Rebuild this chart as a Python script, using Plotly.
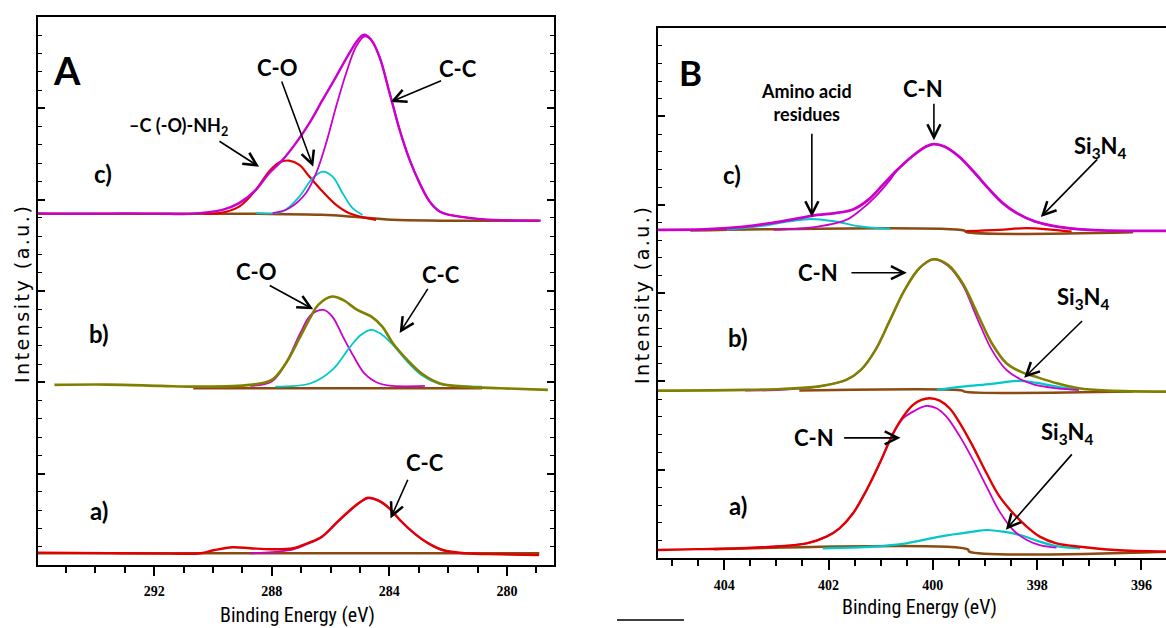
import plotly.graph_objects as go

# ---------------- colours ----------------
MAG = "#CC00CC"
CYA = "#00C8C8"
RED = "#E00000"
OLV = "#808000"
BRN = "#8B4A12"

# ---------------- Panel A : C 1s ----------------
# c)
a_c_env_x = [295.95, 294.5, 293.0, 291.5, 290.82, 289.68, 289.11, 288.54, 288.09, 287.63, 287.18, 286.72, 286.27,
             285.81, 285.36, 285.02, 284.85, 284.62, 284.34, 283.99, 283.65, 283.31, 282.97, 282.63, 282.29, 281.95,
             281.0, 280.0, 278.85]
a_c_env_y = [3.850, 3.845, 3.850, 3.845, 3.844, 3.888, 3.962, 4.107, 4.290, 4.436, 4.619, 4.838, 5.093, 5.348, 5.605,
             5.769, 5.805, 5.750, 5.567, 5.167, 4.765, 4.436, 4.181, 3.979, 3.870, 3.833, 3.790, 3.775, 3.770]
a_c_nh2_x = [290.3, 289.79, 289.11, 288.54, 288.09, 287.75, 287.41, 287.06, 286.72, 286.27, 285.81, 285.36, 284.45]
a_c_nh2_y = [3.846, 3.852, 3.924, 4.107, 4.308, 4.406, 4.428, 4.381, 4.253, 4.089, 3.943, 3.852, 3.779]
a_c_co_x = [288.54, 287.63, 287.06, 286.61, 286.27, 285.93, 285.59, 285.25, 284.91]
a_c_co_y = [3.852, 3.870, 4.034, 4.235, 4.308, 4.253, 4.071, 3.907, 3.833]
a_c_cc_x = [287.97, 287.41, 286.84, 286.49, 286.15, 285.81, 285.47, 285.13, 284.85, 284.62, 284.34, 283.99, 283.65,
            283.31, 282.97, 282.63, 282.29, 281.95, 281.0]
a_c_cc_y = [3.852, 3.907, 4.071, 4.290, 4.619, 5.020, 5.385, 5.677, 5.786, 5.750, 5.567, 5.167, 4.765, 4.436, 4.181,
            3.979, 3.870, 3.833, 3.790]
a_c_bg_x = [295.95, 288.5, 286.3, 285.1, 283.9, 278.9]
a_c_bg_y = [3.845, 3.845, 3.835, 3.810, 3.780, 3.770]
# b)
a_b_env_x = [295.39, 293.58, 291.76, 290.55, 288.73, 288.0, 287.52, 287.03, 286.67, 286.42, 285.94, 285.58, 285.09,
             284.61, 284.24, 283.88, 283.39, 282.91, 282.30, 281.45, 280.24, 278.61]
a_b_env_y = [1.972, 1.975, 1.961, 1.953, 1.972, 2.026, 2.209, 2.501, 2.720, 2.848, 2.939, 2.903, 2.793, 2.720, 2.610,
             2.428, 2.245, 2.099, 1.990, 1.953, 1.935, 1.917]
a_b_co_x = [288.73, 288.0, 287.52, 287.03, 286.67, 286.24, 285.94, 285.58, 285.21, 284.85, 284.36, 283.88, 282.79]
a_b_co_y = [1.961, 2.008, 2.209, 2.538, 2.738, 2.793, 2.720, 2.501, 2.282, 2.099, 1.990, 1.961, 1.961]
a_b_cc_x = [287.88, 286.67, 285.94, 285.33, 284.97, 284.61, 284.24, 283.88, 283.39, 282.91, 282.30, 281.82, 280.85]
a_b_cc_y = [1.953, 1.990, 2.136, 2.391, 2.519, 2.574, 2.519, 2.410, 2.227, 2.081, 1.982, 1.961, 1.953]
a_b_bg_x = [290.67, 280.85]
a_b_bg_y = [1.935, 1.935]
# a)
a_a_env_x = [295.95, 293.5, 291.5, 290.42, 289.94, 289.33, 288.73, 288.0, 287.27, 286.79, 286.30, 285.82, 285.33,
             284.97, 284.73, 284.36, 284.0, 283.64, 283.15, 282.67, 282.18, 281.45, 280.24, 278.91]
a_a_env_y = [0.135, 0.130, 0.125, 0.128, 0.164, 0.194, 0.183, 0.172, 0.183, 0.237, 0.310, 0.456, 0.602, 0.694, 0.737,
             0.704, 0.621, 0.493, 0.347, 0.237, 0.164, 0.128, 0.117, 0.110]
a_a_fit_x = [288.73, 288.0, 287.27, 286.79, 286.30, 285.82, 285.33, 284.97, 284.73, 284.36, 284.0, 283.64, 283.15,
             282.67, 282.18, 281.45]
a_a_fit_y = [0.128, 0.140, 0.170, 0.230, 0.305, 0.450, 0.598, 0.690, 0.730, 0.700, 0.618, 0.490, 0.345, 0.235, 0.160,
             0.128]
a_a_bg_x = [295.95, 278.9]
a_a_bg_y = [0.128, 0.128]

# ---------------- Panel B : N 1s ----------------
# c)
b_c_env_x = [405.27, 404.30, 403.60, 403.05, 402.56, 402.21, 401.87, 401.52, 401.24, 400.96, 400.68, 400.40, 400.13,
             399.99, 399.78, 399.50, 399.22, 398.94, 398.66, 398.39, 398.04, 397.62, 396.99, 395.53]
b_c_env_y = [3.715, 3.722, 3.752, 3.797, 3.847, 3.884, 3.904, 3.949, 4.054, 4.224, 4.394, 4.545, 4.658, 4.685, 4.658,
             4.545, 4.375, 4.187, 4.017, 3.904, 3.809, 3.752, 3.715, 3.703]
b_c_cn_x = [403.05, 402.21, 401.66, 401.38, 401.10, 400.82, 400.68, 400.40, 400.13, 399.99, 399.78, 399.50, 399.22,
            398.94, 398.66, 398.39, 398.04, 397.62, 396.99]
b_c_cn_y = [3.715, 3.752, 3.828, 3.941, 4.092, 4.281, 4.394, 4.545, 4.658, 4.685, 4.658, 4.545, 4.375, 4.187, 4.017,
            3.904, 3.809, 3.752, 3.715]
b_c_am_x = [403.95, 403.26, 402.77, 402.32, 401.87, 401.38, 400.82]
b_c_am_y = [3.715, 3.760, 3.809, 3.839, 3.809, 3.752, 3.726]
b_c_si_x = [399.36, 398.73, 398.21, 397.69, 397.34]
b_c_si_y = [3.700, 3.715, 3.734, 3.715, 3.696]
b_c_bg_x = [404.65, 399.40, 399.36, 396.16]
b_c_bg_y = [3.707, 3.707, 3.690, 3.688]
# b)
b_b_env_x = [405.27, 403.60, 402.91, 402.21, 401.66, 401.38, 401.10, 400.82, 400.54, 400.26, 399.99, 399.71, 399.43,
             399.15, 398.87, 398.59, 398.32, 398.04, 397.62, 397.20, 396.65, 395.53]
b_b_env_y = [1.895, 1.903, 1.914, 1.940, 2.016, 2.129, 2.356, 2.695, 3.035, 3.280, 3.382, 3.318, 3.111, 2.771, 2.431,
             2.205, 2.110, 2.054, 1.978, 1.921, 1.895, 1.884]
b_b_cn_x = [403.60, 402.91, 402.21, 401.66, 401.38, 401.10, 400.82, 400.54, 400.26, 399.99, 399.71, 399.43, 399.15,
            398.87, 398.59, 398.32, 398.04, 397.62, 397.20]
b_b_cn_y = [1.895, 1.903, 1.940, 2.016, 2.129, 2.356, 2.695, 3.035, 3.280, 3.382, 3.307, 3.092, 2.714, 2.356, 2.129,
            2.023, 1.959, 1.921, 1.903]
b_b_si_x = [399.92, 399.43, 398.87, 398.39, 398.04, 397.62, 397.20]
b_b_si_y = [1.903, 1.940, 1.971, 2.005, 1.986, 1.940, 1.903]
b_b_bg_x = [402.56, 399.43, 399.40, 396.16]
b_b_bg_y = [1.895, 1.895, 1.884, 1.884]
# a)
b_a_env_x = [405.27, 404.5, 403.70, 403.06, 402.42, 402.04, 401.79, 401.53, 401.27, 401.02, 400.76, 400.57, 400.38,
             400.22, 400.06, 399.87, 399.68, 399.48, 399.23, 398.97, 398.72, 398.46, 398.20, 397.95, 397.63, 397.18,
             396.5, 395.53]
b_a_env_y = [0.091, 0.100, 0.110, 0.128, 0.166, 0.242, 0.336, 0.506, 0.770, 1.072, 1.412, 1.600, 1.733, 1.789, 1.808,
             1.782, 1.695, 1.525, 1.261, 0.959, 0.694, 0.506, 0.355, 0.242, 0.166, 0.128, 0.090, 0.071]
b_a_cn_x = [403.70, 403.06, 402.42, 402.04, 401.79, 401.53, 401.27, 401.02, 400.76, 400.57, 400.38, 400.22, 400.09,
            399.93, 399.74, 399.48, 399.23, 398.97, 398.72, 398.46, 398.20, 397.95, 397.63]
b_a_cn_y = [0.110, 0.128, 0.166, 0.242, 0.336, 0.506, 0.770, 1.072, 1.412, 1.582, 1.657, 1.706, 1.721, 1.695, 1.600,
            1.374, 1.110, 0.808, 0.525, 0.317, 0.204, 0.147, 0.117]
b_a_si_x = [402.11, 401.15, 400.51, 399.87, 399.23, 398.97, 398.65, 398.33, 397.95, 397.57, 397.18]
b_a_si_y = [0.110, 0.128, 0.166, 0.242, 0.298, 0.317, 0.298, 0.260, 0.185, 0.128, 0.110]
b_a_bg_x = [404.2, 399.33, 399.30, 395.53]
b_a_bg_y = [0.098, 0.098, 0.072, 0.072]

# tick labels
a_ticks = [292, 288, 284, 280]
b_ticks = [404, 402, 400, 398, 396]

# ---------------- labels (text, x, y, panel, size) ----------------
labels = [
    ("A", 294.98, 5.42, "A", 38),
    ("c)", 293.75, 4.29, "A", 24),
    ("b)", 293.89, 2.54, "A", 24),
    ("a)", 293.89, 0.60, "A", 24),
    ("C-O", 287.81, 5.45, "A", 22),
    ("C-C", 281.68, 5.44, "A", 22),
    ("–C (-O)-NH<sub>2</sub>", 291.16, 4.80, "A", 18),
    ("C-O", 288.53, 3.21, "A", 22),
    ("C-C", 282.26, 3.18, "A", 22),
    ("C-C", 282.80, 1.12, "A", 22),
    ("B", 404.64, 5.50, "B", 35),
    ("c)", 403.86, 4.34, "B", 24),
    ("b)", 403.74, 2.50, "B", 24),
    ("a)", 403.74, 0.60, "B", 24),
    ("Amino acid<br>residues", 402.42, 5.16, "B", 18),
    ("C-N", 400.19, 5.32, "B", 22),
    ("Si<sub>3</sub>N<sub>4</sub>", 396.78, 4.65, "B", 22),
    ("C-N", 402.21, 3.23, "B", 22),
    ("Si<sub>3</sub>N<sub>4</sub>", 397.11, 2.94, "B", 22),
    ("C-N", 402.28, 1.36, "B", 22),
    ("Si<sub>3</sub>N<sub>4</sub>", 397.41, 1.42, "B", 22),
]
# arrows (head x, head y, tail x, tail y, panel)
arrows = [
    (286.59, 4.36, 287.68, 5.31, "A"),
    (283.96, 5.07, 282.19, 5.31, "A"),
    (288.43, 4.36, 289.83, 4.65, "A"),
    (286.59, 2.80, 288.12, 3.07, "A"),
    (283.65, 2.54, 282.66, 3.04, "A"),
    (283.96, 0.51, 283.35, 0.95, "A"),
    (402.32, 3.86, 402.32, 4.82, "B"),
    (399.98, 4.73, 399.98, 5.16, "B"),
    (397.93, 3.86, 396.82, 4.53, "B"),
    (400.50, 3.23, 401.59, 3.23, "B"),
    (398.25, 2.04, 397.11, 2.70, "B"),
    (400.62, 1.36, 401.73, 1.36, "B"),
    (398.60, 0.32, 397.31, 1.19, "B"),
]

W, H = 1166, 628
fig = go.Figure()


def add(x, y, color, width, panel):
    xa, ya = ("x", "y") if panel == "A" else ("x2", "y2")
    fig.add_trace(go.Scatter(x=x, y=y, mode="lines", xaxis=xa, yaxis=ya,
                             line=dict(color=color, width=width, shape="spline", smoothing=1.0),
                             hoverinfo="skip", showlegend=False))


# Panel A
add(a_c_bg_x, a_c_bg_y, BRN, 2.5, "A")
add(a_c_nh2_x, a_c_nh2_y, RED, 2.2, "A")
add(a_c_co_x, a_c_co_y, CYA, 1.8, "A")
add(a_c_cc_x, a_c_cc_y, MAG, 1.8, "A")
add(a_c_env_x, a_c_env_y, MAG, 2.4, "A")
add(a_b_bg_x, a_b_bg_y, BRN, 2.5, "A")
add(a_b_co_x, a_b_co_y, MAG, 1.8, "A")
add(a_b_cc_x, a_b_cc_y, CYA, 1.8, "A")
add(a_b_env_x, a_b_env_y, OLV, 2.6, "A")
add(a_a_bg_x, a_a_bg_y, BRN, 2.5, "A")
add(a_a_fit_x, a_a_fit_y, MAG, 1.8, "A")
add(a_a_env_x, a_a_env_y, RED, 2.4, "A")
# Panel B
add(b_c_bg_x, b_c_bg_y, BRN, 2.5, "B")
add(b_c_si_x, b_c_si_y, RED, 2.2, "B")
add(b_c_am_x, b_c_am_y, CYA, 2.0, "B")
add(b_c_cn_x, b_c_cn_y, MAG, 1.8, "B")
add(b_c_env_x, b_c_env_y, MAG, 2.8, "B")
add(b_b_bg_x, b_b_bg_y, BRN, 2.5, "B")
add(b_b_si_x, b_b_si_y, CYA, 2.2, "B")
add(b_b_cn_x, b_b_cn_y, MAG, 1.8, "B")
add(b_b_env_x, b_b_env_y, OLV, 2.6, "B")
add(b_a_bg_x, b_a_bg_y, BRN, 2.5, "B")
add(b_a_si_x, b_a_si_y, CYA, 2.2, "B")
add(b_a_cn_x, b_a_cn_y, MAG, 1.8, "B")
add(b_a_env_x, b_a_env_y, RED, 2.4, "B")

LBL_FONT = "Lato, Open Sans, sans-serif"
for text, x, y, panel, size in labels:
    xr, yr = ("x", "y") if panel == "A" else ("x2", "y2")
    fig.add_annotation(x=x, y=y, xref=xr, yref=yr, text=text, showarrow=False,
                       xanchor="center", yanchor="middle",
                       font=dict(family=LBL_FONT, size=size, color="black", weight="bold"))
for hx, hy, tx, ty, panel in arrows:
    xr, yr = ("x", "y") if panel == "A" else ("x2", "y2")
    fig.add_annotation(x=hx, y=hy, ax=tx, ay=ty, xref=xr, yref=yr, axref=xr, ayref=yr,
                       text="", showarrow=True, arrowhead=5, arrowsize=1.6, arrowwidth=1.6,
                       arrowcolor="black", standoff=0, startstandoff=0)

# axis titles as annotations
XT_FONT = dict(family="Liberation Sans Narrow, Roboto Condensed, Liberation Sans", size=20, color="black")
fig.add_annotation(x=297 / W, y=1 - 615 / H, xref="paper", yref="paper", text="Binding Energy (eV)",
                   showarrow=False, xanchor="center", yanchor="middle", font=XT_FONT)
fig.add_annotation(x=919 / W, y=1 - 607 / H, xref="paper", yref="paper", text="Binding Energy (eV)",
                   showarrow=False, xanchor="center", yanchor="middle", font=XT_FONT)
YT_FONT = dict(family="DejaVu Sans", size=19, color="black")
ytitle = '<span style="letter-spacing:2.5px">Intensity (a.u.)</span>'
fig.add_annotation(x=22 / W, y=1 - 294 / H, xref="paper", yref="paper", text=ytitle,
                   showarrow=False, textangle=-90, xanchor="center", yanchor="middle", font=YT_FONT)
fig.add_annotation(x=642 / W, y=1 - 295 / H, xref="paper", yref="paper", text=ytitle,
                   showarrow=False, textangle=-90, xanchor="center", yanchor="middle", font=YT_FONT)

# footnote separator line
fig.add_shape(type="line", xref="paper", yref="paper", x0=617 / W, x1=684 / W, y0=1 - 620 / H, y1=1 - 620 / H,
              line=dict(color="black", width=1.5))

TICKFONT = dict(family="Liberation Serif", size=14, color="black", weight="bold")
common_x = dict(showline=True, linecolor="black", linewidth=2, mirror=True, showgrid=False, zeroline=False,
                ticks="outside", tickcolor="black", tickwidth=1.5, tickfont=TICKFONT, ticklabelstandoff=3,
                autorange=False)
common_y = dict(showline=True, linecolor="black", linewidth=2, showgrid=False, zeroline=False,
                ticks="inside", tickcolor="black", tickwidth=1.5, ticklen=7, showticklabels=False,
                range=[0, 6], tickmode="linear", tick0=0, dtick=1,
                minor=dict(ticks="inside", dtick=0.2, tick0=0, ticklen=4, tickcolor="black", tickwidth=1.2),
                autorange=False)

fig.update_layout(
    width=W, height=H, margin=dict(l=0, r=0, t=0, b=0),
    paper_bgcolor="white", plot_bgcolor="white", showlegend=False, hovermode=False,
    xaxis=dict(domain=[38 / W, 554 / W], range=[295.95, 278.4], anchor="y",
               tickmode="array", tickvals=a_ticks, ticktext=[str(t) for t in a_ticks], ticklen=9,
               minor=dict(ticks="outside", tickmode="linear", tick0=280, dtick=1, ticklen=6,
                          tickcolor="black", tickwidth=1.5),
               **common_x),
    yaxis=dict(domain=[1 - 565 / H, 1 - 17 / H], anchor="x", mirror="ticks", **common_y),
    xaxis2=dict(domain=[658 / W, 1.0], range=[405.27, 395.53], anchor="y2",
                tickmode="array", tickvals=b_ticks, ticktext=[str(t) for t in b_ticks], ticklen=10,
                minor=dict(ticks="outside", tickmode="linear", tick0=396, dtick=0.5, ticklen=6,
                           tickcolor="black", tickwidth=1.5),
                **common_x),
    yaxis2=dict(domain=[1 - 558 / H, 1 - 28 / H], anchor="x2", mirror=False, **common_y),
)

fig.write_html("out.html")
